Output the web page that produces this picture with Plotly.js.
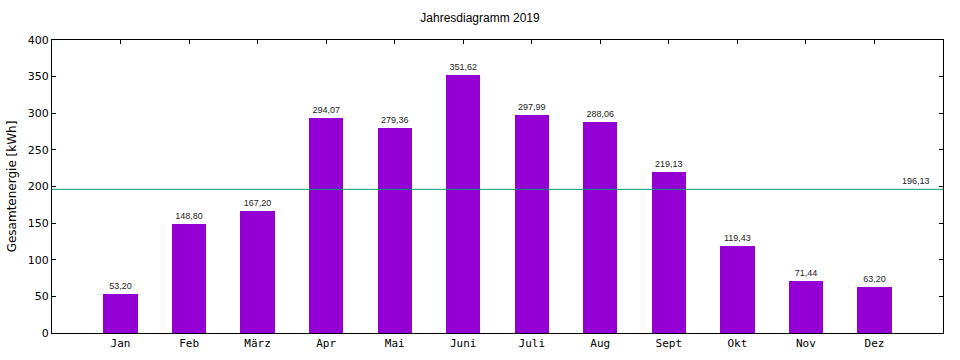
<!DOCTYPE html>
<html>
<head>
<meta charset="utf-8">
<script src="https://cdn.plot.ly/plotly-3.0.1.min.js"></script>
<style>body{margin:0;padding:0;background:#fff}#chart{width:960px;height:360px}</style>
</head>
<body>
<div id="chart"></div>
<script>
var months = ["Jan","Feb","März","Apr","Mai","Juni","Juli","Aug","Sept","Okt","Nov","Dez"];
var energy = [53.20,148.80,167.20,294.07,279.36,351.62,297.99,288.06,219.13,119.43,71.44,63.20];
var average = 196.13;
var yTicks = [0,50,100,150,200,250,300,350,400];

function de(v){ return v.toFixed(2).replace('.', ','); }
var idx = months.map(function(_, i){ return i; });

var bars = {
  type: 'bar',
  x: idx,
  y: energy,
  width: 0.5,
  marker: {color: '#9400d3', line: {width: 0}},
  text: energy.map(de),
  textposition: 'outside',
  cliponaxis: false,
  textfont: {family: 'Liberation Sans, Arial, sans-serif', size: 9, color: '#222'},
  hoverinfo: 'none',
  xaxis: 'x', yaxis: 'y'
};
var topTicks = {
  type: 'scatter', mode: 'markers', x: idx, y: energy, xaxis: 'x2', yaxis: 'y',
  marker: {opacity: 0}, hoverinfo: 'none', showlegend: false
};

var layout = {
  width: 960, height: 360,
  margin: {l: 52, r: 17, t: 40, b: 27},
  paper_bgcolor: '#fff', plot_bgcolor: '#fff',
  showlegend: false,
  bargap: 0,
  title: {text: 'Jahresdiagramm 2019', x: 0.5, xanchor: 'center', y: 0.95, yanchor: 'middle',
          font: {family: 'Liberation Sans, Arial, sans-serif', size: 12, color: '#000'}},
  xaxis: {
    range: [-1, 12], tickmode: 'array', tickvals: idx, ticktext: months,
    ticks: '', showgrid: false, zeroline: false,
    showline: true, linecolor: '#000', linewidth: 1,
    tickfont: {family: 'DejaVu Sans Mono, monospace', size: 11, color: '#000'},
    fixedrange: true
  },
  xaxis2: {
    overlaying: 'x', side: 'top', matches: 'x', range: [-1, 12],
    tickmode: 'array', tickvals: idx, ticks: 'inside', ticklen: 4, tickcolor: '#000',
    showticklabels: false, showgrid: false, zeroline: false,
    showline: true, linecolor: '#000', linewidth: 1
  },
  yaxis: {
    range: [0, 400], tickmode: 'array', tickvals: yTicks, ticktext: yTicks.map(String),
    ticks: 'inside', ticklen: 4, tickcolor: '#000', mirror: 'ticks',
    showline: true, linecolor: '#000', linewidth: 1,
    showgrid: false, zeroline: false,
    tickfont: {family: 'DejaVu Sans, sans-serif', size: 11, color: '#000'},
    title: {text: 'Gesamtenergie [kWh]', standoff: 8,
            font: {family: 'DejaVu Sans, sans-serif', size: 12, color: '#000'}},
    fixedrange: true
  },
  shapes: [{
    type: 'line', xref: 'paper', x0: 0, x1: 1, yref: 'y', y0: average, y1: average,
    line: {color: '#009e73', width: 1}
  }],
  annotations: [{
    xref: 'paper', x: 0.988, xanchor: 'right', yref: 'y', y: average, yanchor: 'bottom', yshift: 1,
    text: de(average), showarrow: false,
    font: {family: 'Liberation Sans, Arial, sans-serif', size: 9, color: '#222'}
  }]
};

Plotly.newPlot('chart', [bars, topTicks], layout, {staticPlot: true, displayModeBar: false});
</script>
</body>
</html>
